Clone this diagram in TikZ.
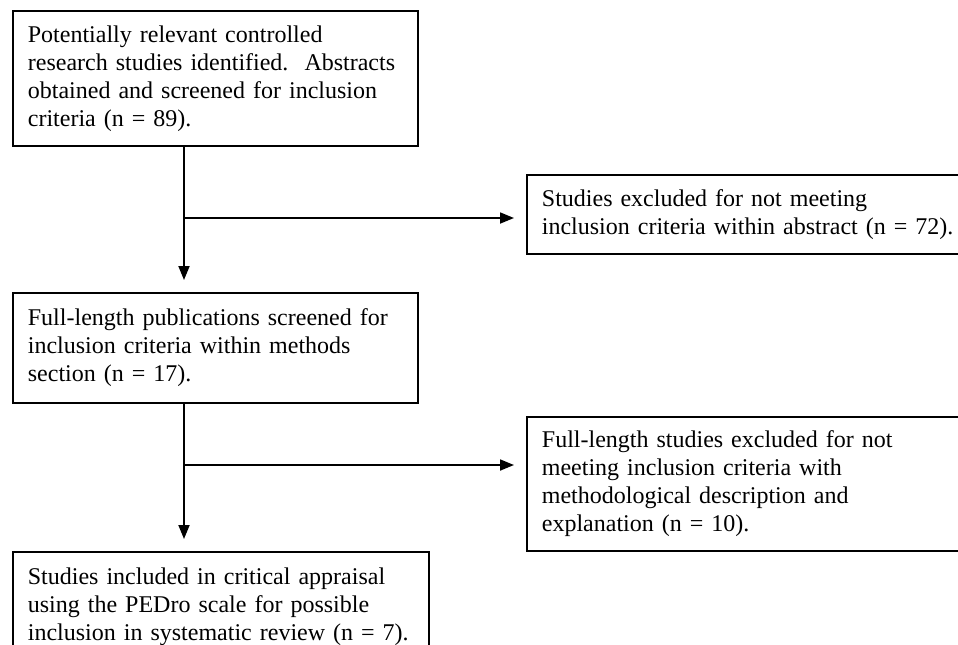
\documentclass[tikz,border=0pt]{standalone}
\usepackage{fontspec}
\setmainfont{Liberation Serif}
\usetikzlibrary{positioning, arrows.meta}

\begin{document}
\begin{tikzpicture}[
		x=0.5pt, y=-0.5pt,
		>={Triangle[length=7pt,width=5.5pt]},
		every node/.style={font=\fontsize{12}{14}\selectfont},
		flowbox/.style={draw, line width=0.9pt, rectangle, anchor=north west, align=left, inner xsep=7.5pt, inner ysep=0pt},
		flow/.style={->, line width=0.9pt, shorten >=6pt}]

	\useasboundingbox (0,0) rectangle (958,644);

	\node[flowbox, text width=187.5pt, minimum height=67.5pt] (identified) at (12,10)
		{Potentially relevant controlled\\ research studies identified.\ \ Abstracts\\ obtained and screened for inclusion\\ criteria (n = 89).};
	\node[flowbox, text width=214pt, minimum height=39.5pt] (excluded_abstract) at (526,174)
		{Studies excluded for not meeting\\ inclusion criteria within abstract (n = 72).};
	\node[flowbox, text width=187.5pt, minimum height=55pt] (screened) at (12,292)
		{Full-length publications screened for\\ inclusion criteria within methods\\ section (n = 17).};
	\node[flowbox, text width=214pt, minimum height=67pt] (excluded_methods) at (526,416)
		{Full-length studies excluded for not\\ meeting inclusion criteria with\\ methodological description and\\ explanation (n = 10).};
	\node[flowbox, text width=193pt, minimum height=55pt] (included) at (12,551)
		{Studies included in critical appraisal\\ using the PEDro scale for possible\\ inclusion in systematic review (n = 7).};

	\coordinate (trunk) at (184,0);
	\coordinate (split_abstract) at (184,218);
	\coordinate (split_methods) at (184,465);

	\draw[flow] (identified.south -| trunk) -- (screened.north -| trunk);
	\draw[flow] (split_abstract) -- (split_abstract -| excluded_abstract.west);

	\draw[flow] (screened.south -| trunk) -- (included.north -| trunk);
	\draw[flow] (split_methods) -- (split_methods -| excluded_methods.west);
\end{tikzpicture}
\end{document}
